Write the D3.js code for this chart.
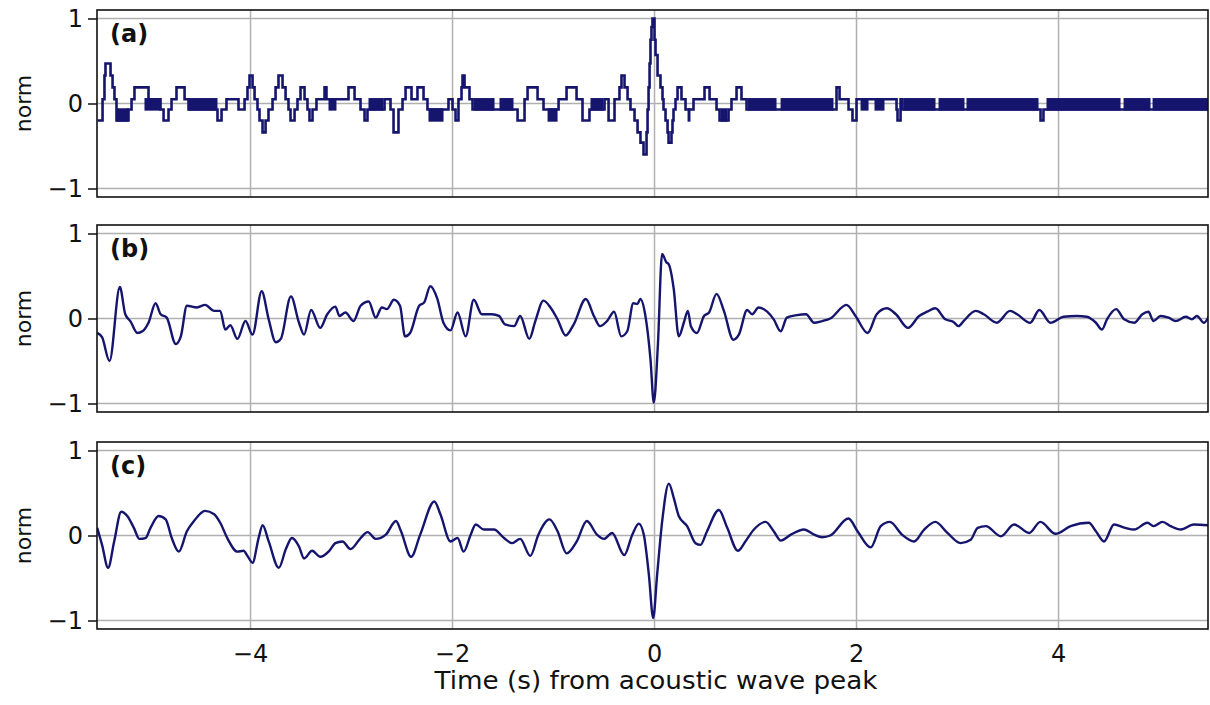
<!DOCTYPE html>
<html lang="en">
<head>
<meta charset="UTF-8"/>
<title>acoustic wave</title>
<script src="https://cdn.jsdelivr.net/npm/d3@7"></script>
<style type="text/css">
    body { margin: 0; background: #fff; }
    text { font-family: "DejaVu Sans", sans-serif; fill: #111; }
    .grid line { stroke: #b0b0b0; stroke-width: 1.5px; }
    .frame { fill: none; stroke: #111; stroke-width: 1.6px; }
</style>
</head>
<body>
<svg id="main" width="1210" height="705"></svg>
<script>

// x ticks and y ticks
var xTicks = [-4, -2, 0, 2, 4]
var yTicks = [-1, 0, 1]
var panelNames = ["(a)", "(b)", "(c)"]

// (a) quantized trace: times where the value changes, and the new value
var tA = [-5.515, -5.465, -5.446, -5.436, -5.386, -5.366, -5.347, -5.327, -5.208, -5.178,
  -5.149, -5.010, -4.891, -4.861, -4.812, -4.782, -4.733, -4.653, -4.614, -4.327,
  -4.287, -4.238, -4.119, -4.059, -4.030, -4.010, -3.980, -3.960, -3.931, -3.911,
  -3.881, -3.851, -3.822, -3.782, -3.752, -3.723, -3.683, -3.653, -3.624, -3.604,
  -3.564, -3.535, -3.505, -3.465, -3.436, -3.416, -3.386, -3.347, -3.267, -3.248,
  -3.149, -3.030, -2.970, -2.911, -2.871, -2.842, -2.673, -2.614, -2.584, -2.535,
  -2.495, -2.465, -2.406, -2.347, -2.287, -2.248, -2.079, -2.040, -2.000, -1.970,
  -1.941, -1.911, -1.901, -1.881, -1.832, -1.802, -1.386, -1.356, -1.287, -1.257,
  -1.158, -1.099, -0.950, -0.871, -0.772, -0.713, -0.644, -0.495, -0.455, -0.396,
  -0.347, -0.327, -0.297, -0.267, -0.238, -0.198, -0.168, -0.139, -0.109, -0.079,
  -0.069, -0.059, -0.049, -0.040, -0.030, -0.020, 0.000, 0.010, 0.030, 0.059,
  0.079, 0.089, 0.109, 0.129, 0.139, 0.168, 0.178, 0.188, 0.208, 0.228,
  0.267, 0.307, 0.366, 0.386, 0.495, 0.545, 0.614, 0.644, 0.733, 0.762,
  0.812, 0.861, 0.911, 1.802, 1.832, 1.921, 1.960, 2.000, 2.396, 2.406,
  2.436, 2.455, 3.822, 3.851, 5.485]
var vA = [-0.2, 0.05, 0.33, 0.47, 0.33, 0.19, 0.05, -0.2, -0.07, 0.05,
  0.19, 0.05, -0.07, -0.2, -0.07, 0.05, 0.19, 0.05, -0.07, -0.2,
  -0.07, 0.05, -0.07, 0.05, 0.19, 0.33, 0.19, 0.05, -0.07, -0.2,
  -0.34, -0.2, -0.07, 0.05, 0.19, 0.33, 0.19, 0.05, -0.07, -0.2,
  -0.07, 0.05, 0.19, 0.05, -0.07, -0.2, -0.07, 0.05, 0.19, 0.05,
  0.05, 0.19, 0.05, -0.07, -0.2, -0.07, 0.05, -0.07, -0.34, -0.07,
  0.05, 0.19, 0.05, 0.19, 0.05, -0.07, -0.07, 0.05, -0.07, -0.2,
  0.05, 0.19, 0.33, 0.19, 0.05, -0.07, -0.07, -0.2, 0.05, 0.19,
  0.05, -0.07, 0.05, 0.19, 0.05, -0.2, -0.07, 0.05, -0.2, 0.05,
  0.19, 0.33, 0.19, 0.05, -0.07, -0.2, -0.34, -0.46, -0.6, -0.34,
  -0.07, 0.19, 0.47, 0.75, 0.9, 1.0, 0.75, 0.57, 0.33, 0.19,
  0.05, -0.07, -0.2, -0.34, -0.46, -0.34, -0.2, -0.07, 0.05, 0.19,
  0.05, -0.07, -0.07, 0.05, 0.19, 0.05, -0.07, -0.2, -0.07, 0.05,
  0.19, 0.05, -0.07, 0.19, 0.05, -0.07, -0.2, 0.05, -0.07, -0.2,
  0.05, -0.07, -0.2, -0.07, -0.07]

// (a) stretches where the trace flickers between two levels too fast to see apart
var bandStart = [-5.327, -5.050, -4.614, -3.228, -2.832, -2.238, -1.792, -1.535, -1.059, -0.634,
  0.327, 0.653, 0.921, 1.248, 2.040, 2.178, 2.465, 2.812, 3.089, 3.881, 4.644, 4.931]
var bandEnd = [-5.208, -4.891, -4.327, -3.149, -2.683, -2.089, -1.584, -1.396, -0.960, -0.505,
  0.356, 0.723, 1.208, 1.772, 2.119, 2.277, 2.782, 3.069, 3.802, 4.614, 4.911, 5.485]
var bandLo = [-0.2, -0.07, -0.07, -0.07, -0.07, -0.2, -0.07, -0.07, -0.2, -0.07,
  -0.2, -0.2, -0.07, -0.07, -0.07, -0.07, -0.07, -0.07, -0.07, -0.07, -0.07, -0.07]
var bandHi = [-0.07, 0.05, 0.05, 0.05, 0.05, -0.07, 0.05, 0.05, -0.07, 0.05,
  -0.07, -0.07, 0.05, 0.05, 0.05, 0.05, 0.05, 0.05, 0.05, 0.05, 0.05, 0.05]

// (b)
var tB = [-5.518, -5.47, -5.396, -5.294, -5.24, -5.19, -5.12, -5.07, -5.01, -4.94,
  -4.89, -4.83, -4.74, -4.69, -4.63, -4.53, -4.45, -4.36, -4.30, -4.25,
  -4.20, -4.13, -4.05, -3.98, -3.89, -3.82, -3.75, -3.70, -3.60, -3.52,
  -3.47, -3.40, -3.31, -3.24, -3.16, -3.12, -3.06, -2.98, -2.91, -2.83,
  -2.76, -2.70, -2.65, -2.58, -2.52, -2.47, -2.42, -2.33, -2.28, -2.22,
  -2.15, -2.09, -2.02, -1.95, -1.87, -1.79, -1.71, -1.61, -1.54, -1.48,
  -1.39, -1.33, -1.24, -1.18, -1.10, -1.03, -0.96, -0.88, -0.80, -0.68,
  -0.60, -0.54, -0.47, -0.40, -0.33, -0.27, -0.21, -0.17, -0.14, -0.09,
  -0.04, -0.007, 0.033, 0.075, 0.118, 0.14, 0.19, 0.24, 0.29, 0.33,
  0.36, 0.42, 0.49, 0.54, 0.614, 0.687, 0.78, 0.835, 0.917, 0.967,
  1.03, 1.115, 1.18, 1.25, 1.31, 1.41, 1.50, 1.58, 1.66, 1.74,
  1.90, 1.99, 2.11, 2.20, 2.30, 2.39, 2.51, 2.62, 2.70, 2.78,
  2.88, 2.96, 3.01, 3.06, 3.18, 3.26, 3.39, 3.52, 3.59, 3.72,
  3.81, 3.92, 4.05, 4.18, 4.28, 4.37, 4.43, 4.48, 4.57, 4.65,
  4.75, 4.83, 4.89, 4.94, 5.01, 5.09, 5.16, 5.26, 5.32, 5.37,
  5.44, 5.49]
var vB = [-0.17, -0.22, -0.50, 0.37, 0.05, -0.03, -0.17, -0.15, -0.05, 0.18,
  0.05, 0.01, -0.30, -0.21, 0.15, 0.13, 0.16, 0.09, 0.09, -0.13,
  -0.08, -0.24, -0.03, -0.19, 0.32, -0.01, -0.28, -0.24, 0.26, -0.05,
  -0.19, 0.10, -0.11, 0.05, 0.14, 0.03, 0.07, -0.03, 0.15, 0.20,
  0.01, 0.13, 0.11, 0.22, 0.15, -0.21, -0.17, 0.15, 0.19, 0.38,
  0.23, -0.05, -0.14, 0.07, -0.21, 0.22, 0.05, 0.05, 0.03, -0.07,
  -0.09, 0.03, -0.24, -0.03, 0.21, 0.13, -0.01, -0.20, -0.07, 0.23,
  0.03, -0.09, -0.03, 0.08, -0.21, -0.15, 0.18, 0.17, 0.23, 0.03,
  -0.48, -0.99, -0.32, 0.76, 0.66, 0.64, 0.35, -0.21, -0.05, 0.09,
  -0.09, -0.17, 0.03, 0.07, 0.29, 0.09, -0.25, -0.19, 0.10, 0.05,
  0.13, 0.08, -0.01, -0.15, 0.01, 0.04, 0.05, -0.05, -0.03, 0.0,
  0.16, 0.03, -0.17, 0.05, 0.12, 0.05, -0.11, 0.03, 0.08, 0.12,
  -0.01, -0.04, -0.09, -0.03, 0.09, 0.05, -0.05, 0.09, 0.05, -0.05,
  0.10, -0.05, 0.02, 0.03, 0.02, -0.05, -0.13, -0.01, 0.11, -0.01,
  -0.05, 0.05, 0.08, -0.03, 0.03, 0.01, -0.03, 0.02, -0.01, 0.03,
  -0.05, 0.03]

// (c)
var tC = [-5.518, -5.47, -5.41, -5.35, -5.28, -5.22, -5.155, -5.10, -5.04, -4.99,
  -4.91, -4.84, -4.78, -4.71, -4.63, -4.56, -4.45, -4.36, -4.30, -4.23,
  -4.13, -4.07, -4.03, -3.98, -3.92, -3.88, -3.82, -3.72, -3.65, -3.59,
  -3.52, -3.47, -3.39, -3.31, -3.22, -3.16, -3.09, -3.01, -2.91, -2.84,
  -2.76, -2.66, -2.56, -2.51, -2.41, -2.32, -2.18, -2.12, -2.02, -1.95,
  -1.89, -1.82, -1.77, -1.69, -1.59, -1.49, -1.41, -1.33, -1.23, -1.15,
  -1.04, -0.96, -0.87, -0.77, -0.67, -0.57, -0.50, -0.42, -0.30, -0.22,
  -0.155, -0.106, -0.056, -0.013, 0.026, 0.076, 0.142, 0.191, 0.24, 0.323,
  0.406, 0.455, 0.52, 0.637, 0.72, 0.825, 0.90, 0.984, 1.10, 1.18,
  1.25, 1.35, 1.48, 1.58, 1.66, 1.74, 1.92, 2.01, 2.14, 2.24,
  2.33, 2.45, 2.57, 2.67, 2.78, 2.90, 3.03, 3.13, 3.20, 3.28,
  3.43, 3.56, 3.71, 3.82, 3.97, 4.12, 4.30, 4.37, 4.45, 4.55,
  4.66, 4.75, 4.88, 4.94, 5.03, 5.11, 5.21, 5.34, 5.49]
var vC = [0.09, -0.11, -0.38, -0.07, 0.28, 0.23, 0.09, -0.04, -0.03, 0.09,
  0.23, 0.19, -0.03, -0.19, 0.05, 0.17, 0.29, 0.25, 0.15, -0.03,
  -0.19, -0.18, -0.24, -0.32, -0.03, 0.12, -0.07, -0.38, -0.16, -0.03,
  -0.13, -0.27, -0.18, -0.25, -0.18, -0.09, -0.07, -0.16, -0.03, 0.04,
  -0.04, 0.01, 0.17, 0.05, -0.25, 0.01, 0.40, 0.25, -0.07, -0.03,
  -0.19, 0.01, 0.13, 0.07, 0.07, -0.03, -0.09, -0.04, -0.24, 0.01,
  0.19, 0.05, -0.21, -0.07, 0.17, 0.01, -0.04, 0.03, -0.23, 0.01,
  0.14, 0.01, -0.46, -0.97, -0.46, 0.17, 0.61, 0.44, 0.23, 0.11,
  -0.09, -0.11, 0.05, 0.30, 0.09, -0.18, -0.07, 0.07, 0.16, 0.05,
  -0.06, 0.01, 0.07, 0.01, -0.02, 0.0, 0.20, 0.05, -0.14, 0.11,
  0.16, 0.01, -0.07, 0.07, 0.16, 0.03, -0.09, -0.05, 0.09, 0.11,
  -0.01, 0.13, 0.03, 0.16, 0.02, 0.11, 0.15, 0.05, -0.07, 0.13,
  0.09, 0.07, 0.15, 0.11, 0.16, 0.11, 0.07, 0.13, 0.12]

var lineColor = "#15156e"

// layout
var left = 97, right = 1208
var panelTop = [10, 225, 442]
var panelH = 187

var svg = d3.select("#main")

var x = d3.scaleLinear().domain([-5.52, 5.48]).range([left, right])

function zip(ts, vs) {
  return ts.map(function(t, i) { return [t, vs[i]] })
}

var traces = [zip(tA, vA), zip(tB, vB), zip(tC, vC)]

panelTop.forEach(function(top, p) {
  var y = d3.scaleLinear().domain([-1.1, 1.1]).range([top + panelH, top])
  var g = svg.append("g")

  // clip so nothing spills over the frame
  g.append("clipPath").attr("id", "clip" + p)
    .append("rect").attr("x", left).attr("y", top).attr("width", right - left).attr("height", panelH)

  // grid
  var grid = g.append("g").attr("class", "grid")
  grid.selectAll(".gx").data(xTicks).enter().append("line")
    .attr("x1", function(d) { return x(d) }).attr("x2", function(d) { return x(d) })
    .attr("y1", top).attr("y2", top + panelH)
  grid.selectAll(".gy").data(yTicks).enter().append("line")
    .attr("x1", left).attr("x2", right)
    .attr("y1", function(d) { return y(d) }).attr("y2", function(d) { return y(d) })

  var plot = g.append("g").attr("clip-path", "url(#clip" + p + ")")

  if (p == 0) {
    // flicker bands
    plot.selectAll("rect.band").data(bandStart).enter().append("rect")
      .attr("x", function(d, i) { return x(d) })
      .attr("width", function(d, i) { return x(bandEnd[i]) - x(d) })
      .attr("y", function(d, i) { return y(bandHi[i]) - 1.2 })
      .attr("height", function(d, i) { return y(bandLo[i]) - y(bandHi[i]) + 2.4 })
      .style("fill", lineColor)
    plot.append("path")
      .attr("d", d3.line().x(function(d) { return x(d[0]) }).y(function(d) { return y(d[1]) })
        .curve(d3.curveStepAfter)(traces[0]))
      .style("fill", "none").style("stroke", lineColor).style("stroke-width", 2.6)
      .style("stroke-linejoin", "miter")
  } else {
    plot.append("path")
      .attr("d", d3.line().x(function(d) { return x(d[0]) }).y(function(d) { return y(d[1]) })
        .curve(d3.curveMonotoneX)(traces[p]))
      .style("fill", "none").style("stroke", lineColor).style("stroke-width", 2.4)
      .style("stroke-linejoin", "round")
  }

  // frame
  g.append("rect").attr("class", "frame")
    .attr("x", left).attr("y", top).attr("width", right - left).attr("height", panelH)

  // y axis ticks and labels
  var yAxis = d3.axisLeft(y).tickValues(yTicks).tickSize(9).tickPadding(5)
    .tickFormat(function(d) { return d < 0 ? "\u2212" + Math.abs(d) : d })
  var ya = g.append("g").attr("transform", "translate(" + left + ",0)").call(yAxis)
  ya.select(".domain").remove()
  ya.selectAll("line").style("stroke", "#111").style("stroke-width", 1.5)
  ya.selectAll("text").style("font-size", "24px").style("font-family", "DejaVu Sans").style("fill", "#111")

  // y label
  g.append("text")
    .attr("transform", "translate(31," + (top + panelH / 2) + ") rotate(-90)")
    .style("text-anchor", "middle").style("font-size", "22px")
    .text("norm")

  // panel label
  g.append("text").attr("x", 110).attr("y", top + 32)
    .style("font-size", "24px").style("font-weight", "bold")
    .text(panelNames[p])
})

// x tick labels under the last panel
svg.selectAll("text.xt").data(xTicks).enter().append("text")
  .attr("x", function(d) { return x(d) }).attr("y", 662)
  .style("text-anchor", "middle").style("font-size", "24px")
  .text(function(d) { return d < 0 ? "\u2212" + Math.abs(d) : d })

svg.append("text").attr("x", 656).attr("y", 689)
  .style("text-anchor", "middle").style("font-size", "24px")
  .attr("textLength", 443).attr("lengthAdjust", "spacingAndGlyphs")
  .text("Time (s) from acoustic wave peak")

</script>
</body>
</html>
